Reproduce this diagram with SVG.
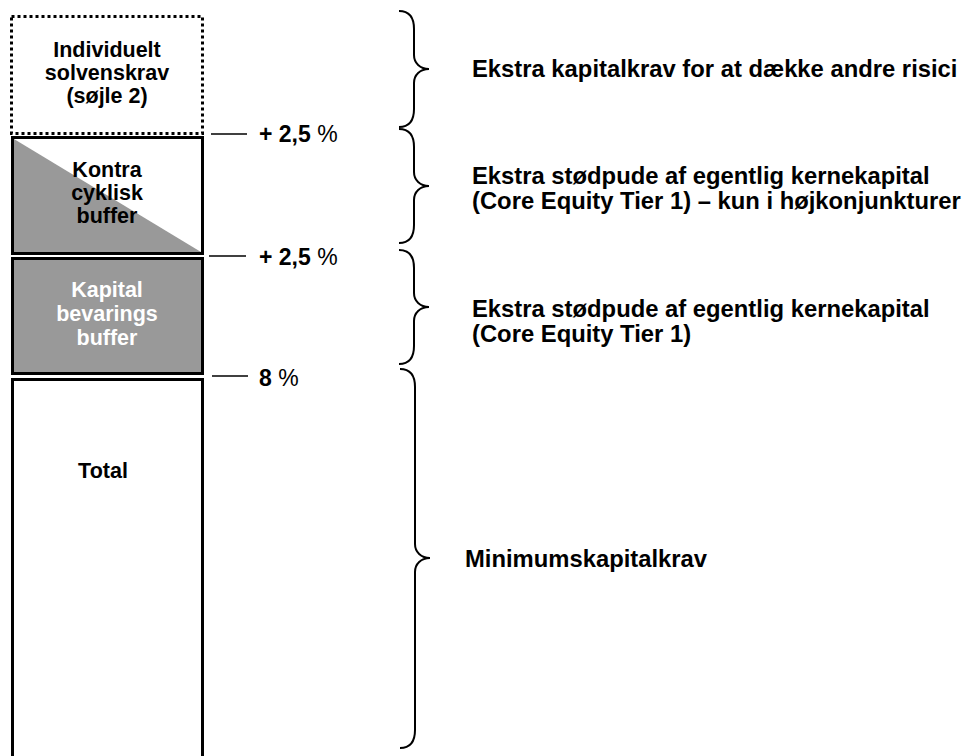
<svg xmlns="http://www.w3.org/2000/svg" width="971" height="756" viewBox="0 0 971 756">
<style>
.box{stroke:#000;stroke-width:3;}
.dot{fill:#fff;stroke:#000;stroke-width:3;stroke-dasharray:3 3;}
.bt{font-family:"Liberation Sans",Arial,sans-serif;font-weight:bold;font-size:21.5px;text-anchor:middle;}
.rt{font-family:"Liberation Sans",Arial,sans-serif;font-weight:bold;font-size:23.8px;fill:#000;}
.pct{font-family:"Liberation Sans",Arial,sans-serif;font-size:23px;fill:#000;}
.tick{stroke:#000;stroke-width:1.5;fill:none;}
.brace{stroke:#000;stroke-width:2;fill:none;}
</style>
<rect width="971" height="756" fill="#fff"/>
<g id="individuelt">
<rect class="dot" x="11.5" y="16.5" width="191" height="117"/>
<text class="bt" x="107" y="57">Individuelt</text>
<text class="bt" x="107" y="80">solvenskrav</text>
<text class="bt" x="107" y="103">(søjle 2)</text>
</g>
<g id="kontra">
<rect class="box" x="12.5" y="137.5" width="190" height="116" fill="#fff"/>
<polygon points="14,139 201,252 14,252" fill="#999"/>
<rect class="box" x="12.5" y="137.5" width="190" height="116" fill="none"/>
<text class="bt" x="107" y="177">Kontra</text>
<text class="bt" x="107" y="200">cyklisk</text>
<text class="bt" x="107" y="223">buffer</text>
</g>
<g id="kapital">
<rect class="box" x="12.5" y="258.5" width="190" height="115" fill="#999"/>
<text class="bt" x="107" y="297" fill="#fff">Kapital</text>
<text class="bt" x="107" y="321" fill="#fff">bevarings</text>
<text class="bt" x="107" y="345" fill="#fff">buffer</text>
</g>
<g id="total">
<rect class="box" x="12.5" y="379.5" width="190" height="400" fill="#fff"/>
<text class="bt" x="103" y="478">Total</text>
</g>
<g id="connectors">
<line class="tick" x1="211" y1="134" x2="247" y2="134"/>
<line class="tick" x1="209" y1="256" x2="246" y2="256"/>
<line class="tick" x1="212" y1="376" x2="248" y2="376"/>
<path class="brace" d="M399 11 C409 11 414 17 414 29 L414 55 C414 63 420 69 429 69 C420 69 414 75 414 83 L414 109 C414 121 409 127 399 127"/>
<path class="brace" d="M399 129 C409 129 414 135 414 147 L414 172 C414 180 420 186 429 186 C420 186 414 192 414 200 L414 225 C414 237 409 243 399 243"/>
<path class="brace" d="M399 250 C409 250 414 256 414 268 L414 293 C414 301 420 307 429 307 C420 307 414 313 414 321 L414 346 C414 358 409 364 399 364"/>
<path class="brace" d="M400 369 C410 369 415 375 415 387 L415 544 C415 552 421 558 430 558 C421 558 415 564 415 572 L415 730 C415 742 410 748 400 748"/>
</g>
<g id="labels-pct">
<text class="pct" x="259" y="142"><tspan font-weight="bold">+ 2,5</tspan> %</text>
<text class="pct" x="259" y="265"><tspan font-weight="bold">+ 2,5</tspan> %</text>
<text class="pct" x="259" y="386"><tspan font-weight="bold">8</tspan> %</text>
</g>
<g id="desc1">
<text class="rt" x="472" y="77">Ekstra kapitalkrav for at dække andre risici</text>
</g>
<g id="desc2">
<text class="rt" x="472" y="184">Ekstra stødpude af egentlig kernekapital</text>
<text class="rt" x="472" y="209">(Core Equity Tier 1) – kun i højkonjunkturer</text>
</g>
<g id="desc3">
<text class="rt" x="472" y="317">Ekstra stødpude af egentlig kernekapital</text>
<text class="rt" x="472" y="342">(Core Equity Tier 1)</text>
</g>
<g id="desc4">
<text class="rt" x="465" y="567">Minimumskapitalkrav</text>
</g>
</svg>
